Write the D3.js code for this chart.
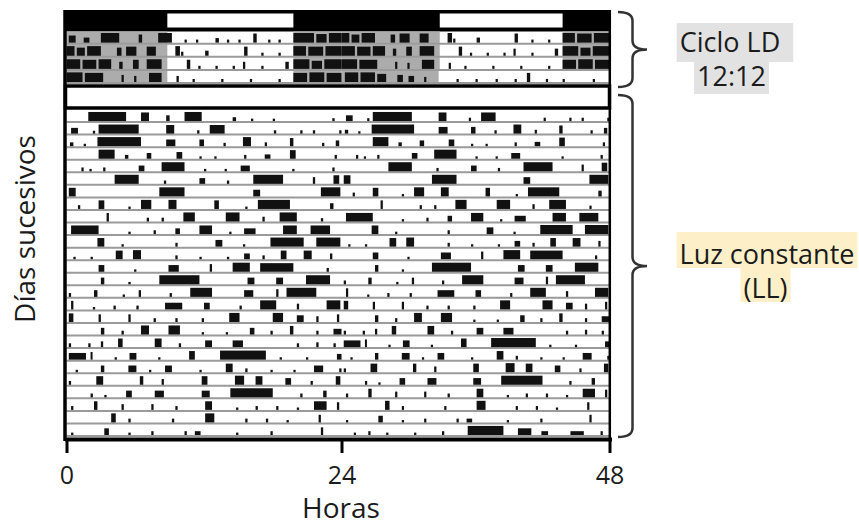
<!DOCTYPE html>
<html>
<head>
<meta charset="utf-8">
<script src="https://cdn.jsdelivr.net/npm/d3@7"></script>
<style>
  html, body { margin: 0; padding: 0; background: #fff; }
  svg { display: block; }
  text { font-family: "Open Sans", sans-serif; fill: #1b1b1b; }
</style>
</head>
<body>
<div id="chart"></div>
<script>
const WIDTH = 859
const HEIGHT = 525

// horas del eje (registro doble: dia n a la izquierda, dia n+1 a la derecha)
const hourTicks = [0, 24, 48]
// ventana de luz del ciclo LD (horas del dia)
const lightsOn = [8.8, 19.8]
// oscuridad en cada dia del ciclo LD
const ldDark = [
  [[0, 8.8], [19.8, 24]],
  [[0, 8.8], [19.8, 24]],
  [[0, 8.8], [19.8, 24]],
  [[0, 8.8], [19.8, 24]],
  [[0, 8.7]]
]

// actividad por dia: [inicio, fin, altura relativa]
const ldDays = [
  [[0.2,0.8,.7],[1.5,2.0,.5],[3.0,4.6,.95],[6.3,6.6,.8],[8.0,9.2,.95],[10.3,10.5,.3],[11.3,11.5,.3],[13.0,13.3,.45],[14.0,14.2,.3],[15.0,15.2,.3],[16.3,16.6,.9],[17.6,17.8,.3],[18.5,18.7,.3],[19.8,21.6,.95],[21.8,22.7,.85],[22.9,24,.95]],
  [[0,0.7,.95],[0.9,1.6,.8],[1.8,3.0,.95],[4.4,4.8,.8],[5.2,6.1,.9],[7.0,7.8,.9],[9.5,9.9,.95],[10.0,10.2,.4],[12.1,12.4,.5],[15.5,15.8,.9],[17.0,17.2,.3],[18.5,18.7,.3],[19.8,20.9,.95],[21.1,22.4,.9],[22.6,24,.95]],
  [[0,1.2,.95],[1.4,2.6,.9],[2.8,3.9,.95],[4.6,4.9,.7],[5.8,6.3,.9],[7.0,8.3,.95],[10.5,10.8,.9],[11.5,11.7,.3],[13.0,13.2,.3],[14.5,14.7,.3],[15.4,15.6,.7],[17.0,17.2,.3],[19.1,19.4,.7],[19.8,21.2,.95],[21.4,22.3,.8],[22.5,24,.95]],
  [[0,1.4,.95],[1.6,3.2,.9],[4.8,5.0,.7],[5.9,6.1,.6],[7.2,8.3,.9],[9.6,9.8,.6],[11.0,11.2,.3],[13.5,13.7,.3],[16.0,16.2,.3],[18.5,18.7,.3],[19.8,21.0,.9],[21.2,22.5,.95],[22.7,24,.9]],
  [[0.3,1.5,.95],[1.7,3.0,.95],[3.2,4.0,.8],[5.0,5.5,.7],[6.0,6.5,.6],[7.4,7.6,.5],[10.3,10.5,.3],[12.0,12.2,.3],[13.8,14.0,.3],[15.5,15.7,.3],[16.6,16.9,.9],[18.3,18.5,.3],[19.8,20.0,.3],[22.5,22.7,.3]]
]

const llDays = [
  [[1.9,5.2,.95],[6.5,7.2,.9],[8.7,9.0,.6],[10.3,11.8,.95],[14.5,14.8,.4],[16.1,16.3,.25],[18.0,18.2,.25],[23.2,23.4,.3]],
  [[0.4,1.0,.6],[2.3,2.5,.3],[2.8,6.3,.95],[8.7,9.4,.9],[11.4,11.6,.35],[12.5,13.8,.9],[18.1,18.3,.35],[20.4,20.6,.35],[21.5,21.7,.35],[23.8,24,.35]],
  [[0.3,0.6,.4],[1.5,1.7,.25],[2.7,6.5,.95],[8.7,9.5,.7],[11.6,12.0,.7],[13.7,13.9,.35],[15.4,16.1,.95],[17.3,17.5,.4],[19.5,19.8,.85],[22.3,22.5,.35],[23.5,23.8,.6]],
  [[2.8,4.2,.95],[5.1,5.4,.4],[7.0,7.4,.6],[9.6,10.1,.7],[11.6,11.8,.25],[12.9,13.1,.25],[15.5,15.7,.4],[17.3,17.8,.45],[19.5,20.0,.9],[23.4,23.6,.4]],
  [[1.3,1.5,.4],[2.0,2.2,.25],[3.2,3.4,.4],[6.3,6.8,.6],[8.3,10.3,.95],[12.0,12.2,.25],[13.8,14.0,.25],[15.2,16.0,.6],[19.7,19.9,.25],[23.2,23.4,.4]],
  [[4.2,6.3,.95],[8.5,8.7,.35],[11.6,12.1,.6],[14.0,14.2,.35],[16.3,18.9,.95],[21.5,21.7,.7],[23.3,23.8,.9]],
  [[0.2,0.8,.9],[8.1,10.3,.95],[16.3,16.9,.7],[22.2,23.9,.95]],
  [[1.0,1.2,.4],[2.8,3.3,.9],[5.4,5.6,.25],[6.5,7.4,.95],[8.9,9.6,.95],[12.9,13.3,.9],[15.6,15.8,.25],[16.7,19.5,.95],[23.0,23.3,.6]],
  [[3.5,3.7,.9],[7.0,7.2,.4],[8.3,8.5,.4],[10.2,11.2,.95],[13.9,15.1,.95],[17.1,17.3,.5],[18.6,20.1,.95],[22.2,22.4,.35]],
  [[0.4,2.8,.9],[5.4,5.6,.25],[7.6,7.8,.4],[9.5,9.9,.6],[11.6,12.7,.9],[14.2,14.4,.25],[15.5,16.5,.6],[18.9,20.1,.9],[21.3,23.0,.9]],
  [[2.7,3.3,.9],[4.8,5.0,.25],[9.5,9.7,.4],[13.0,13.6,.7],[15.4,15.6,.25],[17.8,20.7,.95],[21.8,23.9,.95]],
  [[0.6,0.8,.25],[2.1,2.3,.25],[4.3,4.9,.9],[5.8,6.5,.95],[9.5,9.7,.4],[11.6,11.8,.25],[14.0,14.2,.25],[15.5,16.0,.6],[17.1,17.3,.4],[18.7,19.2,.9],[20.7,21.4,.9],[23.0,23.2,.6]],
  [[2.8,3.3,.7],[5.9,6.1,.25],[8.9,9.8,.7],[12.5,12.7,.8],[14.5,16.0,.95],[16.9,19.8,.9],[22.7,22.9,.4]],
  [[3.0,3.3,.7],[5.4,5.6,.25],[8.1,11.6,.95],[15.8,16.4,.7],[18.3,18.9,.7],[20.9,23.0,.95]],
  [[0.2,0.4,.4],[2.4,2.7,.7],[4.9,5.1,.25],[6.3,6.5,.7],[9.0,9.2,.4],[10.8,12.7,.95],[15.5,16.3,.7],[18.3,18.5,.8],[19.2,21.8,.95]],
  [[0.4,0.6,.9],[2.3,2.5,.25],[4.1,4.3,.4],[6.1,6.3,.4],[8.6,10.1,.7],[12.0,12.5,.7],[15.1,15.3,.4],[16.9,18.3,.95],[20.1,20.3,.6],[22.7,23.9,.95]],
  [[0.2,0.6,.9],[2.8,3.0,.8],[5.4,5.6,.8],[7.6,7.8,.4],[9.5,9.7,.4],[11.8,12.0,.4],[14.2,15.1,.95],[18.0,18.9,.95],[20.1,20.7,.7],[21.8,22.0,.6],[23.6,23.8,.8]],
  [[3.0,3.3,.7],[4.8,5.0,.4],[6.5,7.2,.95],[8.9,9.9,.95],[11.8,12.0,.25],[13.9,14.1,.25],[16.0,16.4,.7],[17.8,18.0,.4],[19.5,19.8,.9],[21.8,22.0,.4],[23.3,24,.6]],
  [[0.2,0.4,.4],[1.9,2.1,.4],[3.0,3.2,.6],[4.5,4.9,.9],[7.7,8.3,.9],[9.8,10.0,.4],[12.1,12.7,.7],[14.5,15.4,.7],[20.1,20.3,.4],[21.8,22.0,.5],[23.3,23.5,.4]],
  [[0.2,1.7,.7],[2.1,2.2,.8],[4.2,4.4,.25],[5.5,6.1,.7],[8.0,8.2,.25],[10.7,11.2,.9],[13.4,17.4,.95],[18.6,18.8,.25],[20.9,21.1,.25],[23.6,24,.6]],
  [[0.8,1.0,.25],[3.0,3.3,.7],[5.4,6.1,.7],[7.2,7.4,.25],[8.6,9.2,.7],[11.6,11.8,.25],[13.9,14.5,.9],[15.6,15.8,.4],[17.8,18.0,.25],[19.8,20.0,.25],[21.6,22.4,.7],[23.8,24,.4]],
  [[0.2,0.4,.4],[2.6,3.2,.9],[6.4,6.7,.9],[8.3,8.5,.6],[11.8,12.3,.9],[14.7,15.5,.95],[16.5,17.1,.9],[19.1,19.6,.7],[21.3,21.5,.4],[23.5,23.9,.9]],
  [[2.1,2.3,.4],[3.3,3.5,.25],[5.2,5.7,.7],[7.7,8.5,.7],[11.8,12.5,.7],[14.3,18.0,.95],[20.4,20.6,.4],[22.4,22.7,.7]],
  [[0.4,0.6,.4],[2.4,2.7,.9],[4.8,5.0,.6],[7.4,7.6,.6],[9.5,9.7,.4],[12.1,12.7,.9],[14.8,15.0,.25],[16.5,16.7,.4],[18.3,18.5,.4],[20.1,20.3,.25],[21.6,22.7,.9],[23.6,23.8,.8]],
  [[3.9,4.3,.95],[5.4,5.6,.4],[9.2,9.4,.4],[12.1,12.9,.95],[15.6,15.8,.4],[17.4,17.6,.4],[19.2,19.4,.25],[22.0,22.2,.8]],
  [[0.4,0.6,.25],[3.3,3.7,.7],[5.4,5.6,.25],[7.4,7.6,.4],[10.3,10.5,.4],[11.2,11.7,.4],[14.8,15.0,.25],[17.8,18.0,.4],[22.2,22.4,.8]],
  [[1.1,1.3,.25],[2.4,2.6,.4],[4.0,4.2,.25],[6.5,6.7,.25],[9.0,9.2,.4],[11.3,14.5,.95],[15.8,17.0,.7],[17.9,18.5,.4],[20.5,21.7,.4],[23.2,23.4,.4]]
]

// textos de las llaves (una linea por elemento)
const ldLabel = ['Ciclo LD', '12:12']
const llLabel = ['Luz constante', '(LL)']

const svg = d3.select('#chart')
  .append('svg')
  .attr('width', WIDTH)
  .attr('height', HEIGHT)

// escala de horas (las dos mitades del original no tienen exactamente el mismo ancho)
const x = d3.scaleLinear().domain(hourTicks).range([66.5, 341.5, 609.5])

const yLD = d3.scaleBand().domain(d3.range(ldDays.length - 1)).range([31.5, 84])
const yLL = d3.scaleBand().domain(d3.range(llDays.length - 1)).range([110.5, 437])

// barra superior del ciclo LD
svg.append('rect')
  .attr('x', 64).attr('y', 10)
  .attr('width', 547).attr('height', 21.5)
  .attr('fill', '#000')

svg.selectAll('rect.light')
  .data([0, 24])
  .join('rect')
  .attr('class', 'light')
  .attr('x', d => x(lightsOn[0] + d))
  .attr('y', 13.5)
  .attr('width', d => x(lightsOn[1] + d) - x(lightsOn[0] + d))
  .attr('height', 14)
  .attr('fill', '#fff')

// fila r = dia r (0-24 h) + dia r+1 (24-48 h)
function doublePlot (days) {
  let out = []
  for (let r = 0; r < days.length - 1; r++) {
    [0, 1].forEach(half => {
      days[r + half].forEach(b => out.push({ row: r, a: b[0] + 24 * half, b: b[1] + 24 * half, lv: b[2] }))
    })
  }
  return out
}

function drawRows (g, y, days, dark) {
  const bw = y.bandwidth()

  if (dark) {
    g.selectAll('rect.dark')
      .data(doublePlot(dark.map(d => d.map(p => [p[0], p[1], 1]))))
      .join('rect')
      .attr('class', 'dark')
      .attr('x', d => x(d.a))
      .attr('y', d => y(d.row))
      .attr('width', d => x(d.b) - x(d.a))
      .attr('height', bw)
      .attr('fill', '#acacac')
  }

  g.selectAll('line.base')
    .data(y.domain())
    .join('line')
    .attr('class', 'base')
    .attr('x1', x(0)).attr('x2', x(48))
    .attr('y1', d => y(d) + bw - 1)
    .attr('y2', d => y(d) + bw - 1)
    .attr('stroke', '#9a9a9a')
    .attr('stroke-width', 2)

  g.selectAll('rect.act')
    .data(doublePlot(days))
    .join('rect')
    .attr('class', 'act')
    .attr('x', d => x(d.a))
    .attr('y', d => y(d.row) + bw - 2 - d.lv * (bw - 3))
    .attr('width', d => Math.max(2, x(d.b) - x(d.a)))
    .attr('height', d => d.lv * (bw - 3))
    .attr('fill', '#111')
}

drawRows(svg.append('g'), yLD, ldDays, ldDark)
drawRows(svg.append('g'), yLL, llDays, null)

// barra blanca de luz constante
svg.append('rect')
  .attr('x', 65.5).attr('y', 86)
  .attr('width', 544).attr('height', 22)
  .attr('fill', '#fff')
  .attr('stroke', '#000')
  .attr('stroke-width', 3.5)

// marco
svg.append('line')
  .attr('x1', 65).attr('x2', 65).attr('y1', 10).attr('y2', 441)
  .attr('stroke', '#000').attr('stroke-width', 3.5)
svg.append('line')
  .attr('x1', 609.8).attr('x2', 609.8).attr('y1', 10).attr('y2', 439)
  .attr('stroke', '#000').attr('stroke-width', 2.5)

// eje x
const axis = svg.append('g')
  .attr('transform', 'translate(0,439)')
  .call(d3.axisBottom(x).tickValues(hourTicks).tickSize(14).tickSizeOuter(0).tickPadding(13))

axis.select('.domain').attr('stroke', '#000').attr('stroke-width', 4).attr('stroke-linecap', 'square')
axis.selectAll('.tick line').attr('stroke', '#000').attr('stroke-width', 3)
axis.selectAll('.tick text').style('font-size', '25px').attr('fill', '#1b1b1b')

svg.append('text')
  .attr('x', 341).attr('y', 518)
  .attr('text-anchor', 'middle')
  .style('font-size', '28px')
  .text('Horas')

svg.append('text')
  .attr('transform', 'translate(34.5,229) rotate(-90)')
  .attr('text-anchor', 'middle')
  .style('font-size', '28px')
  .text('Días sucesivos')

// llaves
function brace (x0, y0, y1, w) {
  const xm = x0 + w / 2
  const tip = (y0 + y1) / 2
  const r = 9
  return `M${x0},${y0} Q${xm},${y0} ${xm},${y0 + r} L${xm},${tip - r} Q${xm},${tip} ${x0 + w},${tip}` +
    ` Q${xm},${tip} ${xm},${tip + r} L${xm},${y1 - r} Q${xm},${y1} ${x0},${y1}`
}

svg.selectAll('path.brace')
  .data([[12, 87], [95, 437]])
  .join('path')
  .attr('class', 'brace')
  .attr('d', d => brace(618, d[0], d[1], 29))
  .attr('fill', 'none')
  .attr('stroke', '#333')
  .attr('stroke-width', 2.5)

// etiquetas resaltadas: un <text> por etiqueta, una linea por tspan,
// fondo de color detras de cada linea (bandas = bordes verticales de cada fondo)
const notes = [
  { lines: ldLabel, xs: [730, 731.5], base: [51.5, 85.5], bands: [23, 62, 94], bg: '#e2e2e2', extra: [10, 0] },
  { lines: llLabel, xs: [767, 765.5], base: [263.5, 297.5], bands: [232, 268, 302], bg: '#fdf0c9', extra: [0, 0] }
]

notes.forEach(n => {
  const g = svg.append('g')
  const t = g.append('text')
    .attr('text-anchor', 'middle')
    .style('font-size', '27px')

  t.selectAll('tspan')
    .data(n.lines)
    .join('tspan')
    .attr('x', (d, i) => n.xs[i])
    .attr('y', (d, i) => n.base[i])
    .text(d => d)
    .each(function (d, i) {
      const len = this.getComputedTextLength()
      g.insert('rect', 'text')
        .attr('x', n.xs[i] - len / 2 - 3)
        .attr('y', n.bands[i])
        .attr('width', len + 6 + n.extra[i])
        .attr('height', n.bands[i + 1] - n.bands[i])
        .attr('fill', n.bg)
    })
})
</script>
</body>
</html>
